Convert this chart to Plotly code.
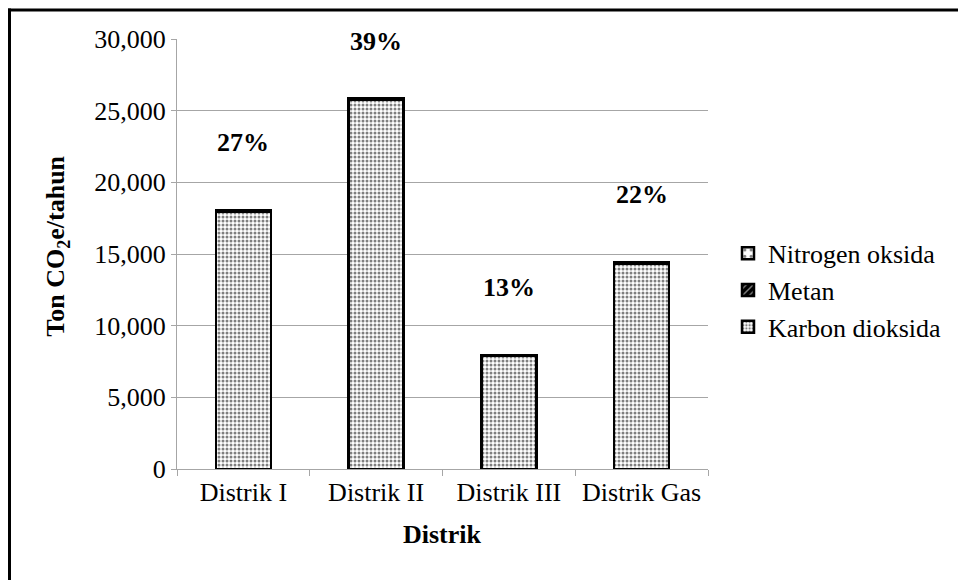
import plotly.graph_objects as go

categories = ["Distrik I", "Distrik II", "Distrik III", "Distrik Gas"]
karbon_dioksida = [17950, 25750, 7900, 14350]
metan = [80, 110, 40, 70]
nitrogen_oksida = [30, 40, 15, 25]
pct_labels = ["27%", "39%", "13%", "22%"]
y_ticks = [0, 5000, 10000, 15000, 20000, 25000, 30000]

FONT = "Liberation Serif"
FS = 26
GRID = "#a6a6a6"

W, H = 958, 580
L, T, PW, PH = 177, 39, 531, 430.5

fig = go.Figure()
fig.add_trace(go.Bar(
    name="Karbon dioksida", x=categories, y=karbon_dioksida,
    marker=dict(color="white", line=dict(color="black", width=2.5),
                pattern=dict(shape=".", fgcolor="black", bgcolor="white", size=4, solidity=0.45)),
))
fig.add_trace(go.Bar(
    name="Metan", x=categories, y=metan,
    marker=dict(color="black", line=dict(color="black", width=2.5),
                pattern=dict(shape="/", fgcolor="white", bgcolor="black", size=6, solidity=0.3)),
))
fig.add_trace(go.Bar(
    name="Nitrogen oksida", x=categories, y=nitrogen_oksida,
    marker=dict(color="white", line=dict(color="black", width=2.5),
                pattern=dict(shape=".", fgcolor="black", bgcolor="white", size=8, solidity=0.2)),
))

totals = [a + b + c for a, b, c in zip(karbon_dioksida, metan, nitrogen_oksida)]
for cat, tot, lab in zip(categories, totals, pct_labels):
    fig.add_annotation(x=cat, y=min(tot + 4700, 29850), text=f"<b>{lab}</b>", showarrow=False,
                       font=dict(family=FONT, size=FS, color="black"), xanchor="center", yanchor="middle")

def px(xp):
    return (xp - L) / PW

def py(yp):
    return (T + PH - yp) / PH

# axis titles
fig.add_annotation(xref="paper", yref="paper", x=px(57), y=py(247), text="<b>Ton CO<sub>2</sub>e/tahun</b>",
                   textangle=-90, showarrow=False, xanchor="center", yanchor="middle",
                   font=dict(family=FONT, size=FS, color="black"))
fig.add_annotation(xref="paper", yref="paper", x=0.5, y=py(535), text="<b>Distrik</b>",
                   showarrow=False, xanchor="center", yanchor="middle",
                   font=dict(family=FONT, size=FS, color="black"))

# outer frame (only left and top edges visible in the picture)
fig.add_shape(type="line", xref="paper", yref="paper", x0=px(9.5), x1=px(9.5), y0=py(8.5), y1=py(H + 20),
              line=dict(color="black", width=3), layer="above")
fig.add_shape(type="line", xref="paper", yref="paper", x0=px(8), x1=px(W + 20), y0=py(10), y1=py(10),
              line=dict(color="black", width=3), layer="above")

fig.update_layout(
    width=W, height=H,
    margin=dict(l=L, r=W - L - PW, t=T, b=H - T - PH, autoexpand=False),
    barmode="stack", bargap=0.586,
    plot_bgcolor="white", paper_bgcolor="white",
    font=dict(family=FONT, size=FS, color="black"),
    showlegend=True,
    legend=dict(traceorder="reversed", x=px(728), xanchor="left", y=py(230), yanchor="top",
                font=dict(family=FONT, size=FS, color="black"), itemwidth=30, tracegroupgap=0,
                bgcolor="rgba(0,0,0,0)"),
    xaxis=dict(showline=True, linecolor=GRID, linewidth=1, ticks="outside", tickson="boundaries",
               ticklen=6, tickcolor=GRID, showgrid=False,
               tickfont=dict(family=FONT, size=FS, color="black")),
    yaxis=dict(range=[0, 30000], tickvals=y_ticks, tickformat=",", showline=True, linecolor=GRID,
               linewidth=1, ticks="outside", ticklen=5, tickcolor=GRID, showgrid=True,
               gridcolor=GRID, gridwidth=1, zeroline=False,
               tickfont=dict(family=FONT, size=FS, color="black")),
)

fig.write_html("out.html", config={"displayModeBar": False},
               post_script="document.body.style.margin='0';document.body.style.overflow='hidden';")
